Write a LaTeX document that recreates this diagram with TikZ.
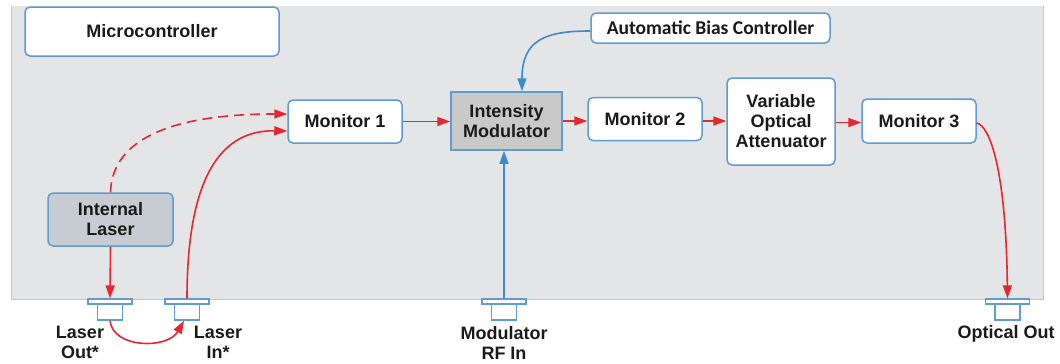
\documentclass[tikz,border=0pt]{standalone}
\usepackage{fontspec}
\setmainfont{Liberation Sans}
\newfontfamily\calfont{Carlito}
\usetikzlibrary{arrows.meta}
\definecolor{bgc}{HTML}{E4E5E7}
\definecolor{bgedge}{HTML}{C6C7C9}
\definecolor{bord}{HTML}{5E9CD3}
\definecolor{redc}{HTML}{E8262E}
\definecolor{bluec}{HTML}{3E8ACC}
\definecolor{imgray}{HTML}{C9C9C9}
\definecolor{lasgray}{HTML}{C7CCD2}
\definecolor{txt}{HTML}{1A1A1A}
\tikzset{
  lbl/.style={font=\bfseries\fontsize{18}{20}\selectfont, text=txt, align=center},
  blk/.style={lbl, draw=bord, line width=1.5pt, fill=white, rounded corners=5pt, inner sep=0pt},
  grayblk/.style={blk, fill=imgray, rounded corners=0pt},
  plate/.style={draw=bord, line width=1.2pt, fill=white, minimum width=44pt, minimum height=5pt, inner sep=0pt},
  stem/.style={draw=bord, line width=1.2pt, fill=white, minimum width=25pt, minimum height=16pt, inner sep=0pt},
  redarr/.style={draw=redc, line width=1.6pt, -{Triangle[length=13pt,width=9pt]}},
  bluearr/.style={draw=bluec, line width=1.6pt, -{Triangle[length=13pt,width=9pt]}},
}
\begin{document}
\begin{tikzpicture}[x=1pt,y=-1pt]
\useasboundingbox (0,0) rectangle (1060,364);
\fill[bgc] (11,6) rectangle (1043,299);
\draw[bgedge, line width=1pt] (11,6) -- (11,299) -- (1043,299) -- (1043,6);

\node[blk, minimum width=254pt, minimum height=49pt] (mc) at (152,31.5) {Microcontroller};
\node[blk, minimum width=114pt, minimum height=43pt] (m1) at (345,121.5) {Monitor 1};
\node[grayblk, minimum width=111pt, minimum height=58pt] (im) at (506.5,121) {Intensity\\Modulator};
\node[blk, minimum width=114pt, minimum height=43pt] (m2) at (645,119) {Monitor 2};
\node[blk, minimum width=108pt, minimum height=87pt] (voa) at (781,121.5) {Variable\\Optical\\Attenuator};
\node[blk, minimum width=114pt, minimum height=44pt] (m3) at (919,121) {Monitor 3};
\node[blk, font=\calfont\bfseries\fontsize{19.5}{21}\selectfont, minimum width=239pt, minimum height=30pt] (abc) at (710.5,28) {Automatic Bias Controller};
\node[blk, fill=lasgray, minimum width=125pt, minimum height=53pt] (laser) at (110.5,219.5) {Internal\\Laser};

% ports
\node[plate] (lop) at (110,301.5) {};
\node[stem] (los) at (110,312) {};
\node[plate] (lip) at (187,301.5) {};
\node[stem] (lis) at (187,312) {};
\node[plate] (rfp) at (504,301.5) {};
\node[stem] (rfs) at (504,312) {};
\node[plate] (oop) at (1007.5,301.5) {};
\node[stem] (oos) at (1007.5,312) {};

\node[lbl] (lol) at (80,342) {Laser\\Out*};
\node[lbl] (lil) at (218,342) {Laser\\In*};
\node[lbl] (rfl) at (504,343) {Modulator\\RF In};
\node[lbl] (ool) at (1006,334) {Optical Out};

% connectors
\draw[redarr] (laser.south) -- (lop.north);
\draw[redarr] (los.south) .. controls (113,349) and (168,349) .. ([xshift=-3pt]lis.south);
\draw[redarr] (lip.north) .. controls (187,170) and (225,130) .. ([yshift=-9.5pt]m1.west);
\draw[redarr, dash pattern=on 10pt off 6pt] (laser.north) .. controls (112,140) and (170,114) .. ([yshift=7.5pt]m1.west);
\draw[redarr] (m1.east) -- (m1.east -| im.west);
\draw[redarr] (im.east) -- (im.east -| m2.west);
\draw[redarr] ([yshift=-2pt]m2.east) -- ([yshift=-2pt]m2.east -| voa.west);
\draw[redarr] ([yshift=-1pt]voa.east) -- ([yshift=-1pt]voa.east -| m3.west);
\draw[redarr] ([yshift=-2pt]m3.east) .. controls (990,126) and (1006,170) .. (oop.north);
\draw[bluearr] ([yshift=-3pt]abc.west) .. controls (545,31) and (522,40) .. ([xshift=15.5pt]im.north);
\draw[bluearr] (rfp.north) -- (im.south -| rfp.north);
\end{tikzpicture}
\end{document}
